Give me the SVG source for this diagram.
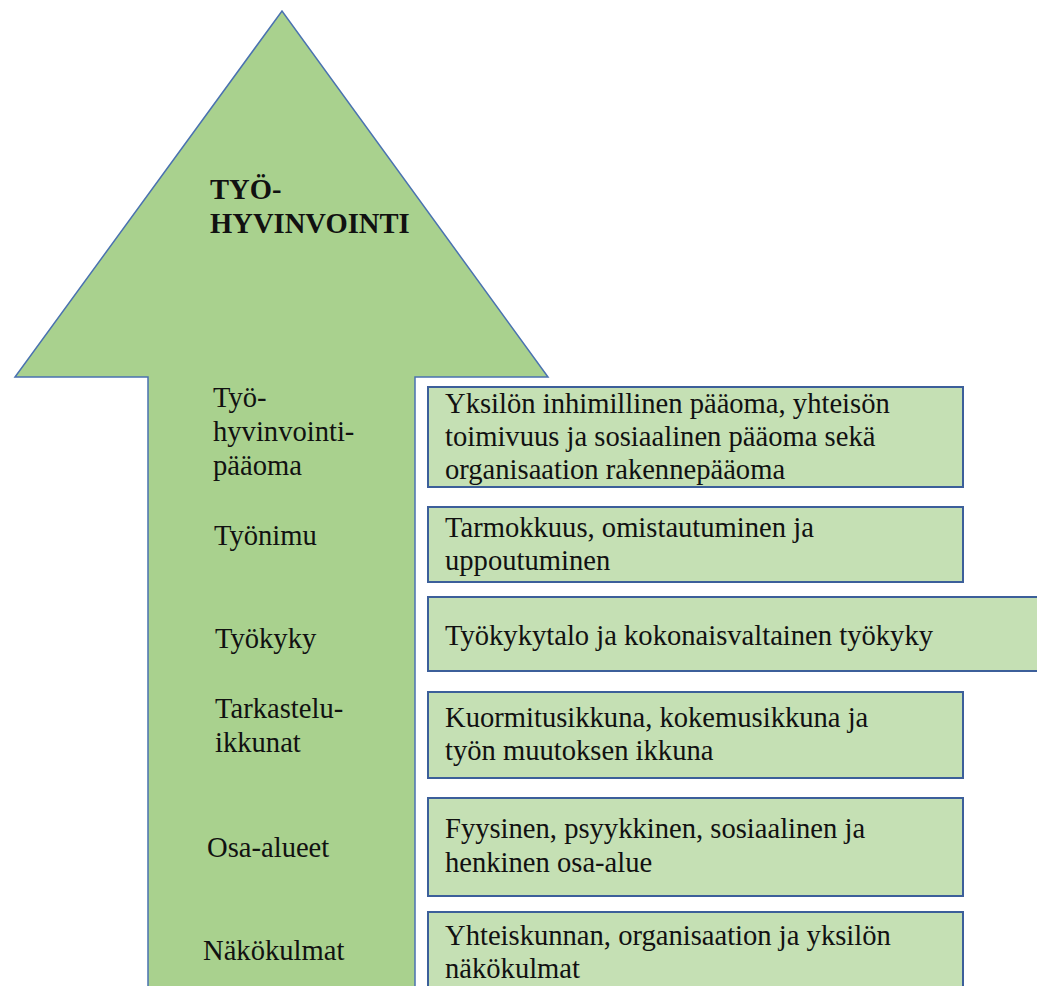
<svg xmlns="http://www.w3.org/2000/svg" width="1037" height="986" viewBox="0 0 1037 986">
<style>
  .arrow { fill: #A9D18E; stroke: #4A72B0; stroke-width: 1.5; stroke-linejoin: miter; }
  .box { fill: #C5E0B4; stroke: #3C5F9A; stroke-width: 2; }
  text { font-family: 'Liberation Serif', 'Times New Roman', Times, serif; font-size: 28.6px; fill: #111; }
  .title { font-weight: bold; }
</style>
<rect width="1037" height="986" fill="#ffffff"/>
<g id="arrow">
  <path class="arrow" d="M148,990 L148,377 L15,377 L282,11 L548,377 L415,377 L415,990"/>
  <text class="title" x="210" y="199">TYÖ-</text>
  <text class="title" x="210" y="233">HYVINVOINTI</text>
</g>
<g id="connectors"></g>
<g id="labels">
  <g id="label-paaoma">
    <text x="213" y="407">Työ-</text>
    <text x="213" y="441">hyvinvointi-</text>
    <text x="213" y="475">pääoma</text>
  </g>
  <g id="label-tyonimu"><text x="214" y="545">Työnimu</text></g>
  <g id="label-tyokyky"><text x="215" y="648">Työkyky</text></g>
  <g id="label-ikkunat">
    <text x="215" y="718">Tarkastelu-</text>
    <text x="215" y="752">ikkunat</text>
  </g>
  <g id="label-osa-alueet"><text x="207" y="857">Osa-alueet</text></g>
  <g id="label-nakokulmat"><text x="203" y="960">Näkökulmat</text></g>
</g>
<g id="box-paaoma">
  <rect class="box" x="428" y="387" width="535" height="100"/>
  <text x="445" y="413">Yksilön inhimillinen pääoma, yhteisön</text>
  <text x="445" y="446">toimivuus ja sosiaalinen pääoma sekä</text>
  <text x="445" y="479">organisaation rakennepääoma</text>
</g>
<g id="box-tyonimu">
  <rect class="box" x="428" y="507" width="535" height="75"/>
  <text x="445" y="537">Tarmokkuus, omistautuminen ja</text>
  <text x="445" y="570">uppoutuminen</text>
</g>
<g id="box-tyokyky">
  <rect class="box" x="428" y="597" width="620" height="74"/>
  <text x="445" y="645">Työkykytalo ja kokonaisvaltainen työkyky</text>
</g>
<g id="box-ikkunat">
  <rect class="box" x="428" y="692" width="535" height="86"/>
  <text x="445" y="727">Kuormitusikkuna, kokemusikkuna ja</text>
  <text x="445" y="760">työn muutoksen ikkuna</text>
</g>
<g id="box-osa-alueet">
  <rect class="box" x="428" y="798" width="535" height="98"/>
  <text x="445" y="838">Fyysinen, psyykkinen, sosiaalinen ja</text>
  <text x="445" y="872">henkinen osa-alue</text>
</g>
<g id="box-nakokulmat">
  <rect class="box" x="428" y="912" width="535" height="90"/>
  <text x="445" y="945">Yhteiskunnan, organisaation ja yksilön</text>
  <text x="445" y="978">näkökulmat</text>
</g>
</svg>
